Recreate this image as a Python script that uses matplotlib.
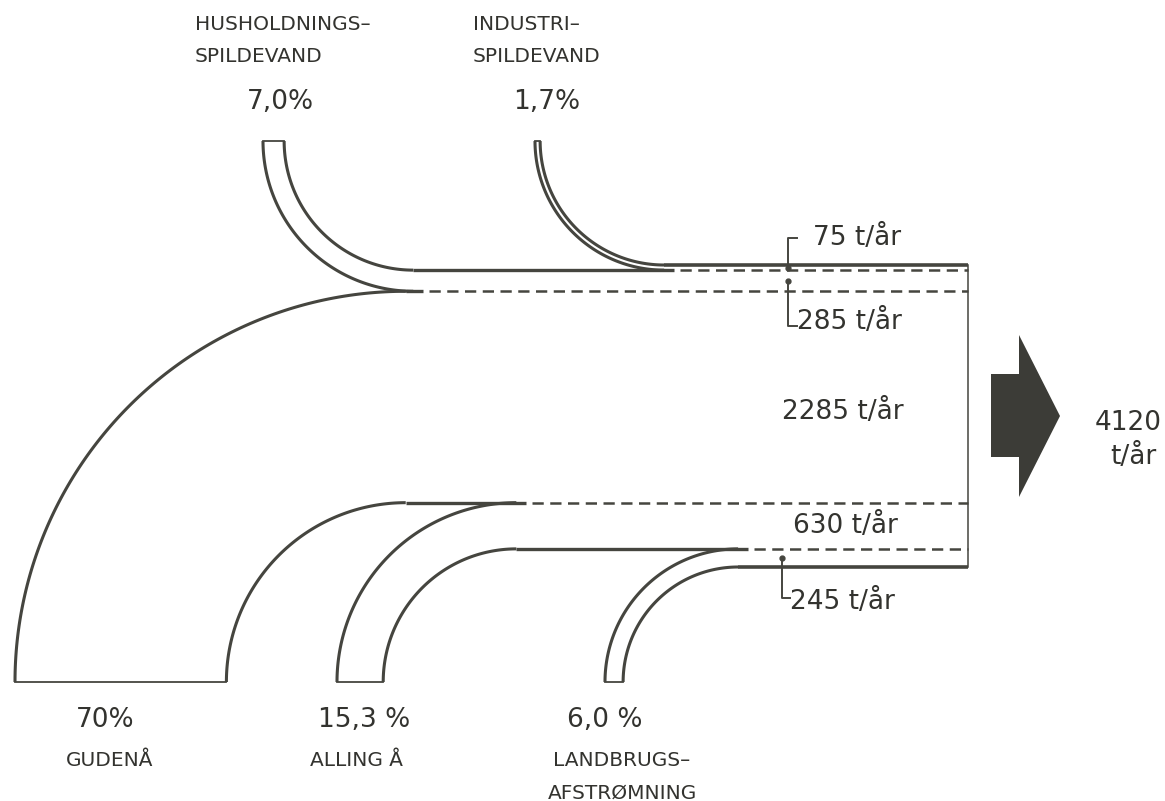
import numpy as np
import matplotlib.pyplot as plt
from matplotlib.patches import Polygon

# sources of the load, their share of the drawn width and tonnes per year
names = ["GUDENÅ", "ALLING Å", "LANDBRUGS–\nAFSTRØMNING",
         "HUSHOLDNINGS–\nSPILDEVAND", "INDUSTRI–\nSPILDEVAND"]
shares = [70.0, 15.3, 6.0, 7.0, 1.7]
share_labels = ["70%", "15,3 %", "6,0 %", "7,0%", "1,7%"]
loads = [2285, 630, 245, 285, 75]
total_load = 4120
sides = ["bottom", "bottom", "bottom", "top", "top"]
stack_order = [4, 3, 0, 1, 2]  # top to bottom in the outlet channel

# layout (pixels)
src_x = [15, 337, 605, 263, 535]
name_pos = [(110, 760, "center"), (356, 760, "center"), (622, 760, "center"),
            (195, 24, "left"), (473, 24, "left")]
pct_pos = [(105, 720), (364, 720), (605, 720), (280, 102), (547, 102)]
load_pos = [(782, 412), (793, 526), (790, 602), (797, 322), (813, 238)]
leader = {4: (788, 238, 797), 3: (788, 326, 797), 2: (782, 598, 790)}
TOP = 265
K = 3.02          # px per percent
BASE_Y = 682
SRC_TOP_Y = 141
OUT_X = 968

ink = "#45453f"
txt = "#33332f"

fig = plt.figure(figsize=(11.65, 8.01), dpi=100)
ax = fig.add_axes([0, 0, 1, 1])
ax.set_xlim(0, 1165)
ax.set_ylim(801, 0)
ax.axis("off")

# band boundaries in the channel
band = {}
y = TOP
for i in stack_order:
    band[i] = (y, y + shares[i] * K)
    y += shares[i] * K
bounds = [band[stack_order[0]][0]] + [band[i][1] for i in stack_order]
ends = {round(b, 3): [] for b in bounds}

t = np.linspace(0, np.pi / 2, 120)
for i in range(len(names)):
    w = shares[i] * K
    y0, y1 = band[i]
    xl = src_x[i]
    if sides[i] == "bottom":
        r_out = BASE_Y - y0
        cx = xl + r_out
        for r in (r_out, r_out - w):
            ax.plot(cx - r * np.cos(t), BASE_Y - r * np.sin(t), color=ink, lw=2.2,
                    solid_capstyle="butt")
        ax.plot([xl, xl + w], [BASE_Y, BASE_Y], color=ink, lw=1.3)
    else:
        r_out = y1 - SRC_TOP_Y
        cx = xl + r_out
        for r in (r_out, r_out - w):
            ax.plot(cx - r * np.cos(t), SRC_TOP_Y + r * np.sin(t), color=ink, lw=2.2,
                    solid_capstyle="butt")
        ax.plot([xl, xl + w], [SRC_TOP_Y, SRC_TOP_Y], color=ink, lw=1.3)
    ends[round(y0, 3)].append(cx)
    ends[round(y1, 3)].append(cx)

# horizontal boundaries: solid where walls meet, dashed inside the channel
for j, b in enumerate(bounds):
    xs = ends[round(b, 3)]
    if j == 0 or j == len(bounds) - 1:
        ax.plot([min(xs), OUT_X], [b, b], color=ink, lw=2.6, solid_capstyle="butt")
    else:
        x_s = max(xs) + 10
        ax.plot([min(xs), x_s], [b, b], color=ink, lw=2.4, solid_capstyle="butt")
        ax.plot([x_s + 6, OUT_X], [b, b], color=ink, lw=1.8, dashes=(4.5, 2.6))
ax.plot([OUT_X, OUT_X], [bounds[0], bounds[-1]], color=ink, lw=1.1)

# outlet arrow
mid = (bounds[0] + bounds[-1]) / 2
arrow = [(991, mid - 42), (1019, mid - 42), (1019, mid - 81), (1060, mid),
         (1019, mid + 81), (1019, mid + 41), (991, mid + 41)]
ax.add_patch(Polygon(arrow, closed=True, facecolor="#3c3c37", edgecolor="none"))
ax.text(1128, 423, str(total_load), fontsize=19, color=txt, ha="center", va="center")
ax.text(1133, 457, "t/år", fontsize=19, color=txt, ha="center", va="center")

# leaders for thin bands
for i, (lx, ly, tx) in leader.items():
    ym = sum(band[i]) / 2
    ax.plot([lx, lx, tx], [ym, ly, ly], color=ink, lw=1.4)
    ax.plot(lx, ym, "o", ms=3.5, color=ink)

# labels
for i in range(len(names)):
    x, yy, ha = name_pos[i]
    for k, line in enumerate(names[i].split("\n")):
        ax.text(x, yy + k * 33, line, fontsize=14.5, color=txt, ha=ha, va="center")
    px, py = pct_pos[i]
    ax.text(px, py, share_labels[i], fontsize=19, color=txt, ha="center", va="center")
    lx, ly = load_pos[i]
    ax.text(lx, ly, f"{loads[i]} t/år", fontsize=19, color=txt, ha="left", va="center")

fig.savefig("out.png", dpi=100, facecolor="white")
